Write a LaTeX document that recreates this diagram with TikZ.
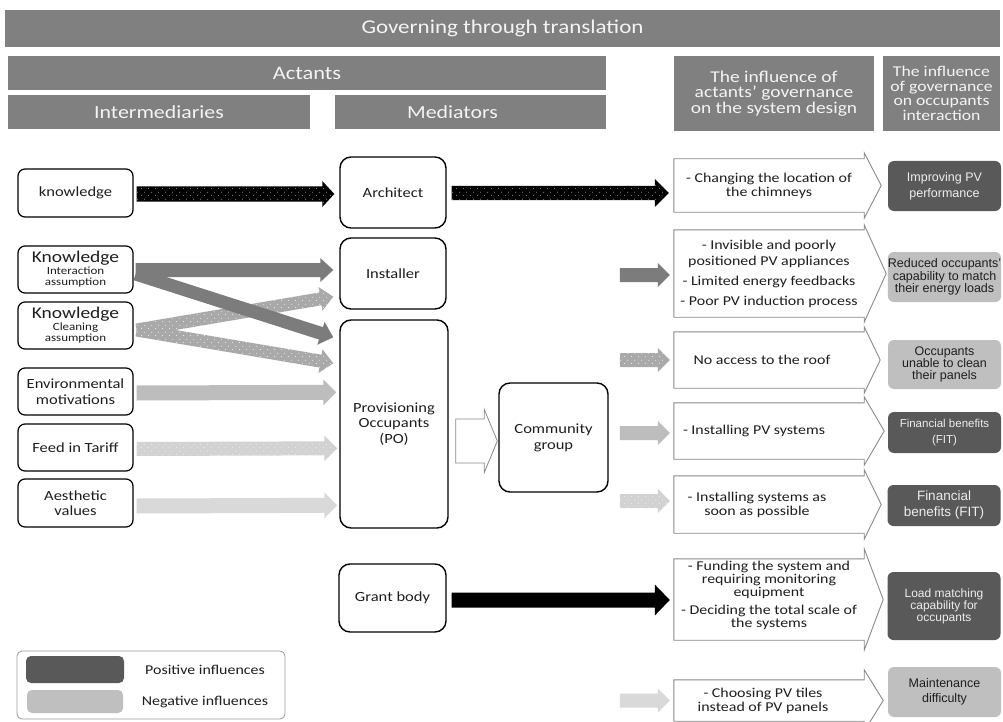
\documentclass[tikz,border=0pt]{standalone}
\usepackage{fontspec}
\setmainfont{Carlito}[FakeStretch=1.18]
\newfontfamily\arialfont{Liberation Sans}
\usetikzlibrary{calc,patterns}

\definecolor{barfill}{HTML}{808080}
\definecolor{bartext}{HTML}{F4F4F4}
\definecolor{posfill}{HTML}{595959}
\definecolor{negfill}{HTML}{BFBFBF}
\definecolor{inkc}{HTML}{1E1E1E}
\definecolor{chevline}{HTML}{8A8A8A}
\definecolor{shadeA}{HTML}{7C7C7C}
\definecolor{shadeB}{HTML}{A9A9A9}
\definecolor{shadeC}{HTML}{BDBDBD}
\definecolor{shadeD}{HTML}{D2D2D2}
\definecolor{shadeE}{HTML}{D9D9D9}

% sparse staggered dots laid over the textured arrows
\pgfdeclarepatternformonly{pvdots}{\pgfqpoint{0pt}{0pt}}{\pgfqpoint{7pt}{7pt}}{\pgfqpoint{7pt}{7pt}}{%
  \pgfpathcircle{\pgfqpoint{1.75pt}{1.75pt}}{0.6pt}%
  \pgfpathcircle{\pgfqpoint{5.25pt}{5.25pt}}{0.6pt}%
  \pgfusepath{fill}}

% block arrow: [style]{tail}{tip}{half shaft width}{half head width}{head length}
\newcommand\fatarrow[6][]{%
  \coordinate (fabase) at ($(#3)!#6!(#2)$);
  \path[#1] ($(#2)!#4!90:(#3)$) -- ($(fabase)!#4!-90:(#2)$) -- ($(fabase)!#5!-90:(#2)$)
    -- (#3) -- ($(fabase)!#5!90:(#2)$) -- ($(fabase)!#4!90:(#2)$) -- ($(#2)!#4!-90:(#3)$) -- cycle;}

% chevron outline around a design-effect node: {node}{head overhang}{head length}
\newcommand\chevron[3]{%
  \draw[chevstroke] (#1.south west) -- (#1.north west) -- (#1.north east) -- ([yshift=#2]#1.north east)
    -- ([xshift=#3]#1.east) -- ([yshift=-#2]#1.south east) -- (#1.south east) -- cycle;}

\begin{document}
\begin{tikzpicture}[x=1pt,y=-1pt,
  hdr/.style={fill=barfill, text=bartext, inner sep=0pt, align=center},
  ibox/.style={draw=black, line width=1.2pt, rounded corners=7pt, fill=white, text=inkc,
    inner sep=0pt, minimum width=115pt, align=center, font=\fontsize{14}{15.5}\selectfont},
  mbox/.style={draw=black, line width=1.4pt, rounded corners=11pt, fill=white, text=inkc,
    inner sep=0pt, align=center, font=\fontsize{14}{15.5}\selectfont},
  chev/.style={inner sep=0pt, minimum width=190pt},
  chevstroke/.style={draw=chevline, line width=0.9pt},
  dtxt/.style={align=center, inner sep=0pt, text=inkc, font=\fontsize{13.5}{14}\selectfont},
  res/.style={rounded corners=6pt, inner sep=0pt, minimum width=113pt, align=center},
  posres/.style={res, fill=posfill, text=white!93!black},
  negres/.style={res, fill=negfill, text=black!88},
  solidarrow/.style={fill=#1},
  dotarrow/.style 2 args={preaction={fill=#1}, pattern=pvdots, pattern color=#2},
]
\fill[white] (0,0) rectangle (1003,722);
\useasboundingbox (0,0) rectangle (1003,722);

% ---- header bars ----
\node[hdr, minimum width=995pt, minimum height=37pt, font=\fontsize{19.5}{20}\selectfont] (gov) at (502.5,28.5) {Governing through translation};
\node[hdr, minimum width=598pt, minimum height=34pt, font=\fontsize{19}{19}\selectfont] (act) at (307,73) {Actants};
\node[hdr, minimum width=302pt, minimum height=34pt, font=\fontsize{18.5}{19}\selectfont] (inter) at (159,112) {Intermediaries};
\node[hdr, minimum width=271pt, minimum height=34pt,
  label={[text=bartext, font=\fontsize{18.5}{19}\selectfont, xshift=-18pt]center:Mediators}] (med) at (470.5,112) {};
\node[hdr, minimum width=200pt, minimum height=75pt, font=\fontsize{16.5}{15.5}\selectfont] (infa) at (774,93.5)
  {The influence of\\actants’ governance\\on the system design};
\node[hdr, minimum width=117pt, minimum height=75pt, font=\fontsize{15}{14.5}\selectfont] (infb) at (941.5,93.5)
  {The influence\\of governance\\on occupants\\interaction};

% ---- intermediaries ----
\node[ibox, minimum height=48pt] (know) at (75.5,193) {knowledge};
\node[ibox, minimum height=47pt, font=\fontsize{11}{11.5}\selectfont] (kint) at (75.5,269.5)
  {{\fontsize{16.5}{13}\selectfont Knowledge}\\Interaction\\assumption};
\node[ibox, minimum height=47pt, font=\fontsize{11}{11.5}\selectfont] (kcln) at (75.5,325.5)
  {{\fontsize{16.5}{13}\selectfont Knowledge}\\Cleaning\\assumption};
\node[ibox, minimum height=47pt] (env) at (75.5,391.5) {Environmental\\motivations};
\node[ibox, minimum height=47pt] (fit) at (75.5,447.5) {Feed in Tariff};
\node[ibox, minimum height=48pt] (aes) at (75.5,503) {Aesthetic\\values};

% ---- mediators ----
\node[mbox, minimum width=106pt, minimum height=71pt] (arch) at (393,192.5) {Architect};
\node[mbox, minimum width=106pt, minimum height=71pt] (inst) at (393,273.5) {Installer};
\node[mbox, minimum width=108pt, minimum height=208pt] (po) at (394,424) {Provisioning\\Occupants\\(PO)};
\node[mbox, minimum width=109pt, minimum height=109pt, font=\fontsize{14}{16}\selectfont] (comm) at (553.5,437.5) {Community\\group};
\node[mbox, minimum width=107pt, minimum height=68pt] (grant) at (392.5,598) {Grant body};

% ---- effects on the system design ----
\node[chev, minimum height=53pt, label={[dtxt]center:- Changing the location of\\the chimneys}] (d1) at (769,185.5) {};
\node[chev, minimum height=87pt, label={[dtxt, font=\fontsize{13.5}{16}\selectfont]center:- Invisible and poorly\\positioned PV appliances\\[4pt]- Limited energy feedbacks\\[4pt]- Poor PV induction process}] (d2) at (769,273.5) {};
\node[chev, minimum height=56pt, label={[dtxt, xshift=-7pt]center:No access to the roof}] (d3) at (769,360) {};
\node[chev, minimum height=56pt, label={[dtxt, xshift=-15pt]center:- Installing PV systems}] (d4) at (769,431) {};
\node[chev, minimum height=57pt, label={[dtxt, xshift=-12pt]center:- Installing systems as\\soon as possible}] (d5) at (769,504.5) {};
\node[chev, minimum height=81pt, label={[dtxt, font=\fontsize{13.5}{13}\selectfont, yshift=4pt]center:- Funding the system and\\requiring monitoring\\equipment\\[5pt]- Deciding the total scale of\\the systems}] (d6) at (769,599.5) {};
\node[chev, minimum height=41pt, label={[dtxt, xshift=-6pt]center:- Choosing PV tiles\\instead of PV panels}] (d7) at (769,700.5) {};
\chevron{d1}{6pt}{17pt}
\chevron{d2}{5pt}{22pt}
\chevron{d3}{5pt}{16pt}
\chevron{d4}{6pt}{20pt}
\chevron{d5}{6pt}{17pt}
\chevron{d6}{10pt}{19pt}
\chevron{d7}{10pt}{19pt}

% ---- effects on occupants' interaction ----
\node[posres, minimum height=50pt, font=\arialfont\fontsize{12.5}{16}\selectfont] (r1) at (944.5,186) {Improving PV\\performance};
\node[negres, minimum height=50pt, font=\arialfont\fontsize{12.5}{12.5}\selectfont] (r2) at (944.5,277) {Reduced occupants’\\capability to match\\their energy loads};
\node[negres, minimum height=49pt, font=\arialfont\fontsize{12.5}{12}\selectfont] (r3) at (944.5,364.5) {Occupants\\unable to clean\\their panels};
\node[posres, minimum height=41pt, font=\arialfont\fontsize{11.5}{16}\selectfont] (r4) at (944.5,432.5) {Financial benefits\\(FIT)};
\node[posres, minimum height=41pt, font=\arialfont\fontsize{13.5}{16}\selectfont] (r5) at (944,505.5) {Financial\\benefits (FIT)};
\node[posres, minimum height=68pt, font=\arialfont\fontsize{12}{12}\selectfont] (r6) at (944,606) {Load matching\\capability for\\occupants};
\node[negres, minimum height=50pt, font=\arialfont\fontsize{12.5}{15}\selectfont] (r7) at (944.5,692) {Maintenance\\difficulty};

% ---- arrow end points ----
\coordinate (kA) at ($(know.east)+(3,1)$);   \coordinate (kB) at ($(arch.west)+(-5,1.5)$);
\coordinate (aA) at ($(arch.east)+(5,0.5)$); \coordinate (aB) at ($(d1.west)+(-5,7.5)$);
\coordinate (iA) at ($(kint.east)+(2,0.5)$); \coordinate (iB) at ($(inst.west)+(-6,-3.5)$);
\coordinate (jA) at ($(kint.east)+(2,4.5)$); \coordinate (jB) at ($(po.north west)+(-6,18)$);
\coordinate (cA) at ($(kcln.east)+(3,4.5)$); \coordinate (cB) at ($(inst.south west)+(-6,-13)$);
\coordinate (cC) at ($(po.north west)+(-6,44)$);
\coordinate (eA) at ($(env.east)+(3,1.5)$);  \coordinate (eB) at ($(po.north west)+(-3,73)$);
\coordinate (fA) at ($(fit.east)+(3,1.5)$);  \coordinate (fB) at ($(po.north west)+(-2,129)$);
\coordinate (vA) at ($(aes.east)+(3,3)$);    \coordinate (vB) at ($(po.north west)+(-2,186)$);
\coordinate (gA) at ($(grant.east)+(5,2)$);  \coordinate (gB) at ($(d6.west)+(-4,0.5)$);
\coordinate (pA) at ($(po.east)+(7,17)$);    \coordinate (pB) at ($(comm.west)+(-1,3.5)$);
\coordinate (t2) at ($(d2.west)+(-54,1.5)$); \coordinate (h2) at ($(d2.west)+(-4,1.5)$);
\coordinate (t3) at ($(d3.west)+(-54,0)$);   \coordinate (h3) at ($(d3.west)+(-4,0)$);
\coordinate (t4) at ($(d4.west)+(-54,2)$);   \coordinate (h4) at ($(d4.west)+(-4,2)$);
\coordinate (t5) at ($(d5.west)+(-54,-3.5)$);\coordinate (h5) at ($(d5.west)+(-4,-3.5)$);
\coordinate (t7) at ($(d7.west)+(-54,0)$);   \coordinate (h7) at ($(d7.west)+(-4,0)$);

% ---- block arrows ----
\fatarrow[dotarrow={black}{white!60!black}]{kA}{kB}{7.5pt}{13pt}{12pt}
\fatarrow[dotarrow={black}{white!60!black}]{aA}{aB}{7pt}{14pt}{14pt}
\fatarrow[dotarrow={shadeB}{white!85!gray}]{cA}{cB}{6.5pt}{12pt}{13pt}
\fatarrow[dotarrow={shadeB}{white!85!gray}]{cA}{cC}{6.5pt}{12pt}{13pt}
\fatarrow[solidarrow=shadeA]{iA}{iB}{7pt}{12pt}{13pt}
\fatarrow[solidarrow=shadeA]{jA}{jB}{6.5pt}{12pt}{13pt}
\fatarrow[solidarrow=shadeC]{eA}{eB}{7.5pt}{13pt}{13pt}
\fatarrow[dotarrow={shadeD}{white!85!gray}]{fA}{fB}{7pt}{13pt}{13pt}
\fatarrow[solidarrow=shadeE]{vA}{vB}{7.5pt}{13pt}{13pt}
\fatarrow[solidarrow=black]{gA}{gB}{7.5pt}{15.5pt}{15pt}
\fatarrow[draw=chevline, fill=white, line width=0.8pt]{pA}{pB}{22pt}{31.5pt}{13pt}
\fatarrow[solidarrow=shadeA]{t2}{h2}{7pt}{12pt}{12pt}
\fatarrow[dotarrow={shadeB}{white!85!gray}]{t3}{h3}{7pt}{12pt}{12pt}
\fatarrow[solidarrow=shadeC]{t4}{h4}{7pt}{12pt}{12pt}
\fatarrow[dotarrow={shadeD}{white!85!gray}]{t5}{h5}{7pt}{12pt}{12pt}
\fatarrow[solidarrow=shadeE]{t7}{h7}{7pt}{12pt}{12pt}

% ---- legend ----
\node[draw=gray!80, line width=0.8pt, rounded corners=5pt, minimum width=268pt, minimum height=68pt, inner sep=0pt] (leg) at (151,685) {};
\node[fill=posfill, rounded corners=5pt, minimum width=98pt, minimum height=27pt, inner sep=0pt] (legpos) at (75,669.5) {};
\node[fill=negfill, rounded corners=5pt, minimum width=96pt, minimum height=23pt, inner sep=0pt] (legneg) at (75,701.5) {};
\node[text=inkc, font=\fontsize{13.5}{15}\selectfont, inner sep=0pt] (legpost) at (205,670) {Positive influences};
\node[text=inkc, font=\fontsize{13.5}{15}\selectfont, inner sep=0pt] (legnegt) at (205,702) {Negative influences};
\end{tikzpicture}
\end{document}
